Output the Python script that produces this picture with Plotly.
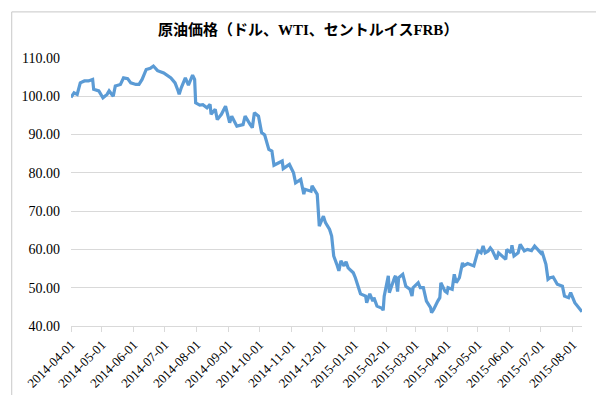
import plotly.graph_objects as go

dates = [
    "2014-04-01","2014-04-04","2014-04-07","2014-04-10","2014-04-14","2014-04-18","2014-04-22","2014-04-23","2014-04-28",
    "2014-05-02","2014-05-06","2014-05-08","2014-05-12","2014-05-14","2014-05-19","2014-05-22","2014-05-26","2014-05-29",
    "2014-06-03","2014-06-06","2014-06-09","2014-06-13","2014-06-17","2014-06-20","2014-06-24","2014-06-30",
    "2014-07-07","2014-07-11","2014-07-14","2014-07-15","2014-07-17","2014-07-21","2014-07-24","2014-07-28","2014-07-30","2014-07-31",
    "2014-08-04","2014-08-07","2014-08-11","2014-08-14","2014-08-15","2014-08-19","2014-08-21","2014-08-25","2014-08-29",
    "2014-09-02","2014-09-04","2014-09-09","2014-09-15","2014-09-17","2014-09-22","2014-09-24","2014-09-26","2014-09-30",
    "2014-10-03","2014-10-06","2014-10-10","2014-10-13","2014-10-15","2014-10-20","2014-10-23","2014-10-24","2014-10-30",
    "2014-11-03","2014-11-05","2014-11-10","2014-11-13","2014-11-14","2014-11-20","2014-11-21","2014-11-26","2014-11-28",
    "2014-12-02","2014-12-04","2014-12-08","2014-12-10","2014-12-12","2014-12-15","2014-12-17","2014-12-19","2014-12-22","2014-12-24","2014-12-26","2014-12-31",
    "2015-01-02","2015-01-07","2015-01-12","2015-01-13","2015-01-16","2015-01-19","2015-01-20","2015-01-23","2015-01-28","2015-01-29","2015-01-30",
    "2015-02-03","2015-02-04","2015-02-09","2015-02-10","2015-02-12","2015-02-13","2015-02-17","2015-02-20","2015-02-24","2015-02-26","2015-02-27",
    "2015-03-04","2015-03-06","2015-03-09","2015-03-12","2015-03-16","2015-03-17","2015-03-19","2015-03-23","2015-03-25","2015-03-26","2015-03-30",
    "2015-04-01","2015-04-02","2015-04-06","2015-04-08","2015-04-10","2015-04-13","2015-04-16","2015-04-17","2015-04-21","2015-04-24","2015-04-27",
    "2015-05-01","2015-05-04","2015-05-06","2015-05-08","2015-05-11","2015-05-13","2015-05-15","2015-05-19","2015-05-21","2015-05-26","2015-05-28","2015-05-29",
    "2015-06-02","2015-06-03","2015-06-05","2015-06-09","2015-06-11","2015-06-15","2015-06-18","2015-06-22","2015-06-25","2015-06-29",
    "2015-07-01","2015-07-02","2015-07-06","2015-07-08","2015-07-10","2015-07-13","2015-07-15","2015-07-17","2015-07-22","2015-07-24","2015-07-28","2015-07-30",
    "2015-08-03","2015-08-06","2015-08-10",
]
prices = [
    99.7,100.9,100.5,103.5,104.0,104.0,104.4,101.8,101.4,
    99.6,100.5,101.4,100.0,102.7,103.1,104.8,104.6,103.5,
    103.1,103.1,104.4,107.0,107.3,107.9,106.7,106.1,
    104.8,103.5,101.4,100.5,102.2,104.8,102.9,105.5,104.4,98.3,
    97.7,97.8,97.0,97.9,95.3,96.6,93.9,95.3,97.4,
    93.1,94.8,92.2,92.6,94.8,92.6,91.8,95.7,94.8,
    90.5,89.9,86.1,85.7,82.0,82.6,83.1,81.1,82.2,
    80.0,77.4,78.3,74.4,75.7,75.2,76.6,74.4,66.1,
    68.7,67.0,65.2,63.5,58.3,56.1,54.4,57.0,55.7,56.8,55.2,53.9,
    52.6,48.4,47.8,46.1,48.4,46.5,47.4,45.2,44.6,44.1,47.8,
    53.1,48.7,52.6,53.1,49.0,52.6,53.5,50.4,49.6,47.8,50.0,
    51.3,50.0,50.0,46.5,44.8,43.5,44.3,46.5,47.4,51.3,49.1,
    48.7,50.0,49.6,53.5,51.3,52.6,56.5,55.7,56.3,55.9,55.7,
    59.6,59.1,60.9,59.1,59.6,60.4,59.7,57.4,59.1,57.8,57.4,60.0,
    59.1,61.1,58.3,59.1,61.3,59.6,60.0,59.7,60.9,59.7,
    59.1,59.6,56.1,52.2,52.6,52.8,51.7,50.9,50.4,47.8,47.4,48.7,
    46.1,45.2,43.7,
]

title_text = "原油価格（ドル、WTI、セントルイスFRB）"

fig = go.Figure()
fig.add_trace(go.Scatter(
    x=dates, y=prices, mode="lines",
    line=dict(color="#5B9BD5", width=3.2),
    showlegend=False, hoverinfo="x+y",
))

serif = "Times New Roman, Liberation Serif, Noto Sans CJK JP, serif"

fig.update_layout(
    width=604, height=395,
    margin=dict(l=63, r=30, t=50, b=77),
    paper_bgcolor="white", plot_bgcolor="white",
    title=dict(text="<b>" + title_text + "</b>", x=0.497, xanchor="center", y=0.945, yanchor="middle",
               font=dict(family="Liberation Serif, Noto Sans CJK JP, serif", size=15, color="#000000")),
    xaxis=dict(
        type="date",
        range=["2014-04-01", "2015-08-10"],
        tick0="2014-04-01", dtick="M1", tickformat="%Y-%m-%d",
        tickangle=-45, tickfont=dict(family=serif, size=13, color="#000000"),
        showgrid=False, showline=True, linecolor="#d9d9d9", linewidth=1,
        ticks="outside", ticklen=5, tickcolor="#d9d9d9",
        zeroline=False,
    ),
    yaxis=dict(
        range=[40, 110], dtick=10, tick0=40, tickformat=".2f",
        tickfont=dict(family=serif, size=14, color="#000000"),
        showgrid=True, gridcolor="#d9d9d9", gridwidth=1,
        showline=False, zeroline=False, ticks="", ticklabelstandoff=10,
    ),
    shapes=[dict(type="rect", xref="paper", yref="paper",
                 x0=-0.116, x1=1.045, y0=-0.268, y1=1.172,
                 line=dict(color="#c8c8c8", width=1), fillcolor="rgba(0,0,0,0)", layer="above")],
)

fig.write_html("out.html")
